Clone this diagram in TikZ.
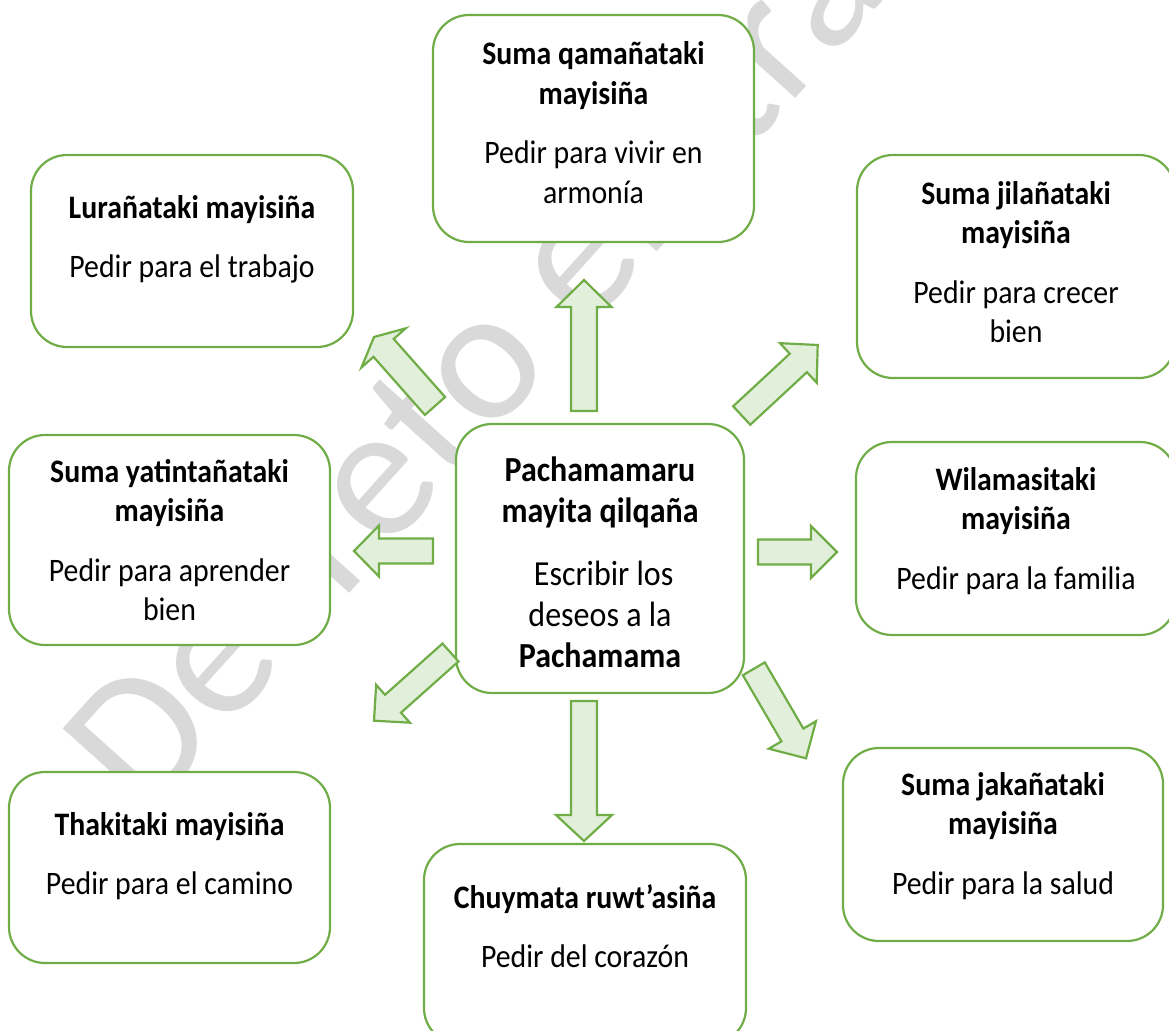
\documentclass[tikz,border=0pt]{standalone}
\usepackage{graphicx}
\usepackage{fontspec}
\setmainfont{Carlito}
\usetikzlibrary{calc}

\definecolor{boxgreen}{HTML}{70AD47}
\definecolor{arrowfill}{HTML}{E2EFDA}
\definecolor{wmgray}{HTML}{D9D9D9}

\tikzset{
  box/.style={draw=boxgreen, line width=2.2pt, fill=white, rounded corners=36pt,
    inner sep=0pt, outer sep=0pt, anchor=north west},
  boxtext/.style={inner sep=0pt, anchor=base, font=\fontsize{29.8}{35.5}\selectfont},
  centertext/.style={inner sep=0pt, anchor=base, font=\fontsize{32}{37.3}\selectfont},
  arrowbody/.style={draw=boxgreen, fill=arrowfill, line width=2.2pt, line join=miter},
  watermark/.style={inner sep=0pt, anchor=base west, rotate=48, text=wmgray,
    font=\fontsize{191}{191}\selectfont}
}

% block arrow: name, tail, tip, shaft half width, head half width, head length
\newcommand{\blockarrow}[6]{%
  \coordinate (#1-base) at ($(#3)!#6!(#2)$);
  \draw[arrowbody]
    ($(#2)!#4!90:(#3)$) -- ($(#1-base)!#4!90:(#3)$) -- ($(#1-base)!#5!90:(#3)$)
    -- (#3)
    -- ($(#1-base)!#5!-90:(#3)$) -- ($(#1-base)!#4!-90:(#3)$) -- ($(#2)!#4!-90:(#3)$)
    -- cycle;
}

% text is set slightly tall and narrow
\newcommand{\tall}[1]{\scalebox{1}[1.1]{#1}}
% two-part box text: bold title lines, then plain lines
\newcommand{\boxcaption}[2]{\tall{\begin{tabular}[t]{@{}c@{}}#1\\[19pt]#2\end{tabular}}}

\begin{document}
\begin{tikzpicture}[x=1pt, y=-1pt]
\useasboundingbox (0,0) rectangle (1169,1030);
\clip (0,0) rectangle (1169,1030);

% background watermark
\node[watermark] (wm) at (145,821) {Decreto en trámite};

% boxes
\node[box, minimum width=322pt, minimum height=192pt] (lura)   at (31,155)  {};
\node[box, minimum width=321pt, minimum height=227pt] (qama)   at (433,15)  {};
\node[box, minimum width=318pt, minimum height=223pt] (jila)   at (857,155) {};
\node[box, minimum width=321pt, minimum height=210pt] (yati)   at (9,435)   {};
\node[box, minimum width=288pt, minimum height=269pt] (centre) at (456,424) {};
\node[box, minimum width=320pt, minimum height=193pt] (wila)   at (856,442) {};
\node[box, minimum width=321pt, minimum height=191pt] (thaki)  at (9,772)   {};
\node[box, minimum width=322pt, minimum height=200pt] (chuy)   at (424,844) {};
\node[box, minimum width=320pt, minimum height=193pt] (jaka)   at (843,748) {};

% captions
\node[boxtext] (lura-t) at ([yshift=-63pt]lura.north)
  {\boxcaption{\textbf{Lurañataki mayisiña}}{Pedir para el trabajo}};
\node[boxtext] (qama-t) at ([yshift=-50pt]qama.north)
  {\boxcaption{\textbf{Suma qamañataki}\\\textbf{mayisiña}}{Pedir para vivir en\\armonía}};
\node[boxtext] (jila-t) at ([yshift=-49pt]jila.north)
  {\boxcaption{\textbf{Suma jilañataki}\\\textbf{mayisiña}}{Pedir para crecer\\bien}};
\node[boxtext] (yati-t) at ([yshift=-47pt]yati.north)
  {\boxcaption{\textbf{Suma yatintañataki}\\\textbf{mayisiña}}{Pedir para aprender\\bien}};
\node[boxtext] (wila-t) at ([yshift=-48pt]wila.north)
  {\boxcaption{\textbf{Wilamasitaki}\\\textbf{mayisiña}}{Pedir para la familia}};
\node[boxtext] (thaki-t) at ([yshift=-63pt]thaki.north)
  {\boxcaption{\textbf{Thakitaki mayisiña}}{Pedir para el camino}};
\node[boxtext] (chuy-t) at ([yshift=-64pt]chuy.north)
  {\boxcaption{\textbf{Chuymata ruwt’asiña}}{Pedir del corazón}};
\node[boxtext] (jaka-t) at ([yshift=-47pt]jaka.north)
  {\boxcaption{\textbf{Suma jakañataki}\\\textbf{mayisiña}}{Pedir para la salud}};
\node[centertext] (centre-t) at ([yshift=-57pt]centre.north)
  {\tall{\begin{tabular}[t]{@{}c@{}}\textbf{Pachamamaru}\\\textbf{mayita qilqaña}\\[20pt]
   \ Escribir los\\deseos a la\\\textbf{Pachamama}\end{tabular}}};

% arrow ends
\coordinate (up-tail) at (584,411);     \coordinate (up-tip) at (584,280);
\coordinate (dn-tail) at (584,701);     \coordinate (dn-tip) at (584,841);
\coordinate (rt-tail) at (758,552);     \coordinate (rt-tip) at (837,552);
\coordinate (lt-tail) at (433,551);     \coordinate (lt-tip) at (354,551);
\coordinate (ul-tail) at (435,406);     \coordinate (ul-tip) at (374,337);
\coordinate (ur-tail) at (741.7,415.5); \coordinate (ur-tip) at (817.7,345);
\coordinate (dl-tail) at (450.5,652.5); \coordinate (dl-tip) at (374,720.7);
\coordinate (dr-tail) at (753.8,668.8); \coordinate (dr-tip) at (806,758.3);

% block arrows from the centre outwards
\blockarrow{up}{up-tail}{up-tip}{13pt}{27.5pt}{27pt}
\blockarrow{dn}{dn-tail}{dn-tip}{13pt}{28pt}{26pt}
\blockarrow{rt}{rt-tail}{rt-tip}{12.5pt}{26pt}{26pt}
\blockarrow{lt}{lt-tail}{lt-tip}{12.5pt}{25.5pt}{25pt}
\blockarrow{ul}{ul-tail}{ul-tip}{13.5pt}{29.5pt}{14.5pt}
\blockarrow{ur}{ur-tail}{ur-tip}{12.6pt}{27pt}{26.4pt}
\blockarrow{dl}{dl-tail}{dl-tip}{12pt}{25.4pt}{25.5pt}
\blockarrow{dr}{dr-tail}{dr-tip}{12.7pt}{27.3pt}{27pt}
\end{tikzpicture}
\end{document}
